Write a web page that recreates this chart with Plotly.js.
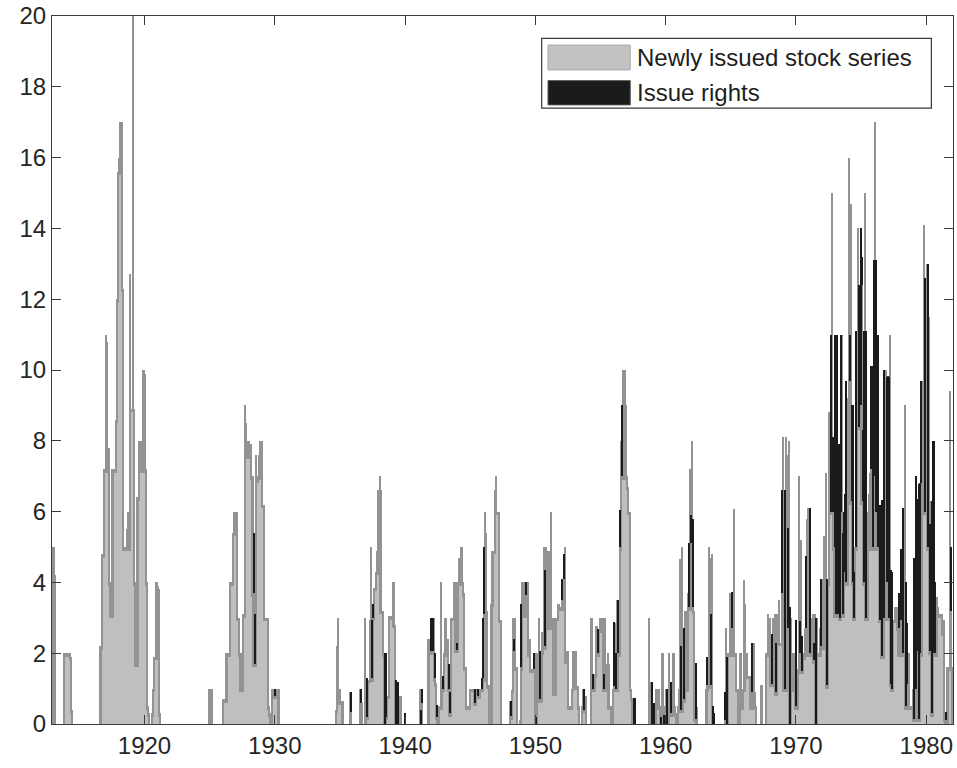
<!DOCTYPE html>
<html><head><meta charset="utf-8">
<script src="https://cdn.plot.ly/plotly-3.0.1.min.js"></script>
<style>html,body{margin:0;padding:0;background:#fff}#chart{width:957px;height:768px}</style>
</head><body><div id="chart"></div>
<script>
const firstYear = 1912; // monthly values, January 1912 onwards
const tickYears = [1920, 1930, 1940, 1950, 1960, 1970, 1980];
const seriesNames = ['Newly issued stock series', 'Issue rights'];

const newSeries1910s = [
 0,0,0,0,0,0,0,0,0,0,0,5.0,
 5.0,4.2,0,0,0,0,0,0,0,2.0,2.0,2.0,
 2.0,2.0,2.0,2.0,1.9,0.4,0,0,0,0,0,0,
 0,0,0,0,0,0,0,0,0,0,0,0,
 0,0,0,0,0,0,0,2.2,4.8,4.8,7.2,7.2,
 11.0,10.8,7.8,7.8,4.0,3.1,7.2,7.2,7.2,8.6,12.0,15.6,
 16.0,17.0,17.0,17.0,12.3,5.0,5.0,5.5,6.0,5.0,12.7,8.9,
 8.9,21.0,8.9,4.0,1.7,6.4,8.0,8.0,7.2,8.0,10.0,10.0];
const newSeries1920s = [
 9.9,7.2,4.0,0.5,0.3,0,0.3,1.0,1.9,1.9,4.0,4.0,
 3.9,3.8,0.3,0,0,0,0,0,0,0,0,0,
 0,0,0,0,0,0,0,0,0,0,0,0,
 0,0,0,0,0,0,0,0,0,0,0,0,
 0,0,0,0,0,0,0,0,0,0,0,1.0,
 0.2,1.0,1.0,0,0,0,0,0,0,0,0,0,
 0.7,0.7,0.7,2.0,2.0,2.0,4.0,4.0,4.0,5.4,6.0,6.0,
 6.0,6.0,3.0,3.0,2.0,1.0,3.1,3.1,9.0,8.5,7.6,8.0,
 8.0,7.9,7.9,7.0,3.7,1.7,7.6,6.9,7.0,7.6,8.0,8.0,
 8.0,6.2,6.2,3.0,3.0,3.0,0.5,0.3,0,1.0,1.0,1.0];
const newSeries1930s = [
 0.8,1.0,1.0,1.0,0,0,0,0,0,0,0,0,
 0,0,0,0,0,0,0,0,0,0,0,0,
 0,0,0,0,0,0,0,0,0,0,0,0,
 0,0,0,0,0,0,0,0,0,0,0,0,
 0,0,0,0,0,0,0,0,0.4,2.2,3.0,1.0,
 1.0,0.65,0.65,0,0,0,0,0,0,0.9,0.35,0,
 0,0,0,0,0,0,1.0,0.6,0.6,0,0,3.0,
 0.2,1.25,1.25,2.95,5.0,1.3,3.0,3.85,3.85,4.3,4.9,6.6,
 7.0,6.6,3.2,3.2,2.0,0,0.2,0.8,0.8,3.05,3.05,3.05,
 4.0,4.0,2.8,0,0.1,0,0.8,0.8,0.8,0,0,0];
const newSeries1940s = [
 0,0,0,0,0,0,0,0,0,0,0,0,
 0,1.0,0,0.6,0,0,0,0,0,2.4,2.4,2.05,
 2.05,2.05,3.0,1.3,1.15,0.2,0,0.5,0.5,4.0,1.0,2.0,
 3.0,3.0,2.4,2.4,1.0,0.3,3.0,3.0,3.0,4.0,4.0,2.1,
 4.0,4.7,4.7,5.0,5.0,4.0,3.7,1.6,1.6,0.5,0.5,1.0,
 1.0,1.0,1.0,1.0,0.6,1.0,1.0,0.8,1.0,1.0,1.0,1.3,
 3.1,6.0,5.4,3.2,1.1,1.1,0,3.4,4.9,4.9,6.6,7.0,
 6.0,6.0,6.0,2.95,2.95,0,0,0,0,0,0,0,
 0.64,0.22,0.97,3.0,2.05,3.0,1.6,1.6,0,0.1,1.6,4.0,
 4.0,3.1,4.0,3.65,4.0,4.0,2.0,2.4,1.55,1.55,1.55,2.0];
const newSeries1950s = [
 0,2.0,2.0,3.0,0.7,2.05,2.6,5.0,2.2,5.0,4.5,4.9,
 4.9,2.76,6.0,3.0,3.0,0.9,3.0,3.0,3.4,3.4,3.3,3.3,
 3.5,4.1,4.1,5.0,1.8,2.05,2.05,0.5,0.5,1.0,2.05,2.05,
 2.05,2.05,1.07,1.07,0.5,0,0.5,1.0,0.4,0.8,0.8,0,
 0,0,0,3.0,3.0,1.0,1.4,2.76,2.76,2.0,2.67,3.0,
 3.0,3.0,3.0,1.0,3.0,1.7,2.0,1.7,0.5,0.5,0,1.0,
 1.07,2.86,1.0,3.5,2.0,5.0,8.0,7.0,10.0,10.0,10.0,9.0,
 7.0,6.7,6.0,6.0,1.0,0.74,0,0,0,0,0,0,
 0,0,0,0,0,0,0,0,3.0,0.5,1.2,0,
 0.6,0,0.6,1.0,1.0,1.0,0.5,0,2.0,2.0,0,0.5];
const newSeries1960s = [
 1.0,0,0.5,2.0,0.3,1.0,2.0,2.0,0.5,0.3,0,0.5,
 1.0,4.65,0.4,5.0,0.7,3.2,3.2,1.0,3.7,3.3,7.2,5.1,
 8.0,3.3,3.2,0.13,0.47,0,0,0,0,0,0,0,
 0,1.0,1.1,5.0,4.7,1.1,4.8,0,0,0,0,0,
 0,0,0,0,0,0,0.1,2.7,0,2.0,2.0,3.7,
 3.7,2.72,6.06,2.0,2.0,1.0,1.0,0,2.0,2.0,0.5,1.0,
 4.08,3.4,2.0,1.37,1.37,1.37,0.5,0.9,2.3,2.3,0.9,0.5,
 0,0,0,1.1,1.1,0,0,0,2.0,2.0,3.1,3.0,
 3.0,1.14,3.0,2.0,3.1,0.9,3.1,3.1,3.5,2.3,2.3,3.7,
 8.1,1.0,8.1,7.6,2.7,8.0,0,3.0,1.0,2.0,2.0,1.5];
const newSeries1970s = [
 0.5,1.54,7.0,2.0,5.2,1.5,2.0,1.9,2.7,2.72,5.8,6.1,
 2.0,3.0,3.0,3.1,1.8,3.1,0,3.0,2.0,2.0,2.7,2.2,
 4.1,5.3,5.3,7.1,1.1,4.0,8.8,8.8,6.0,15.0,6.0,5.0,
 3.1,4.0,3.1,5.4,3.0,6.0,11.0,3.1,5.4,4.3,4.0,9.2,
 16.0,9.7,14.7,6.3,4.0,3.0,5.0,5.0,11.1,14.0,8.4,9.0,
 12.4,6.3,4.0,15.0,3.0,3.0,6.0,6.5,7.1,7.2,5.0,7.0,
 17.0,6.0,6.3,5.0,6.2,2.95,6.2,1.93,6.3,3.0,10.0,4.0,
 7.07,3.0,11.0,1.14,1.0,2.95,2.95,3.3,3.3,3.3,2.72,2.0,
 2.95,4.9,2.0,6.1,9.0,0.5,1.14,2.0,2.0,0.5,0.5,1.0,
 0.13,4.7,1.0,6.3,2.05,0.13,2.0,6.8,9.7,14.1,6.0,12.2];
const newSeries1980s = [
 13.0,5.0,11.5,2.05,6.3,0.3,3.5,2.0,2.0,3.6,3.3,3.1,
 3.1,3.1,3.1,2.6,2.95,0.13,0.1,1.6,1.6,9.4,3.2,1.6];

const rights1910s = new Array(96).fill(0);
const rights1920s = [
 0,0,0,0,0,0,0,0,0,0,0,0,
 0,0,0,0,0,0,0,0,0,0,0,0,
 0,0,0,0,0,0,0,0,0,0,0,0,
 0,0,0,0,0,0,0,0,0,0,0,0,
 0,0,0,0,0,0,0,0,0,0,0,0,
 0,0,0,0,0,0,0,0,0,0,0,0,
 0,0,0,0,0,0,0,0,0,0,0,0,
 0,0,0,0,0,0,0,0,0,0,0,0,
 0,0,0,0,1.7,1.4,0,0,0,0,0,0,
 0,0,0,0,0,0,0,0,0,0,0,0];
const rights1930s = [
 0.2,0,0,0,0,0,0,0,0,0,0,0,
 0,0,0,0,0,0,0,0,0,0,0,0,
 0,0,0,0,0,0,0,0,0,0,0,0,
 0,0,0,0,0,0,0,0,0,0,0,0,
 0,0,0,0,0,0,0,0,0,0,0,0,
 0,0,0,0,0,0,0,0,0,0,0.55,0,
 0,0,0,0,0,0,0,0.4,0,0,0,0,
 1.1,0,0,0,0,1.65,0.4,0,0,0,0,0,
 0,0,0,0,0,2.0,1.8,0,0,0,0,0,
 0,0,0,1.25,0.7,1.2,0,0,0,0,0,0.3];
const rights1940s = [
 0,0,0,0,0,0,0,0,0,0,0,0,
 0,0,0.4,0.4,0,0,0,0,0,0,0,0.95,
 0.95,0.95,0,0.7,0,0.35,0,0,0,0,0.35,0,
 0,0,0,0,0.7,0.6,0,0,0,0,0,0.2,
 0,0,0,0,0,0,0,0,0,0,0,0,
 0,0,0,0,0.4,0,0,0.2,0,0,0.3,1.7,
 1.9,0,0,0,0,0,0,0,0,0,0,0,
 0,0,0,0,0,0,0,0,0,0,0,0,
 0,0.42,0,0,0.35,0,0,0,0,0,1.8,0,
 0,0,0,0.35,0,0,0,0,0,0,0.45,0];
const rights1950s = [
 0.2,0,0,0,1.35,0,0,0,2.16,0,0,0,
 0,0,0,0,0,0,0,0,0,0,0,0,
 0.6,0,0.7,0,0,0,0,0,0,0,0,0,
 0,0,0,0,0,0,0,0,0.6,0,0,0,
 0,0,0,0,0,0.4,0,0,0,0.67,0,0,
 0,0,0,0.4,0,0,0,0,0,0,0,0,
 1.8,0,1.0,0,1.5,1.05,0,2.0,0,0,0,0,
 0,0,0,0,0,0,0.74,0.74,0,0,0,0,
 0,0,0,0,0,0,0,0,0,0,0,1.2,
 0,0.6,0,0,0,0,0,0.2,0,0,0.25,0];
const rights1960s = [
 0,1.0,0,0,0.9,0,0,0,0,0,0,0,
 0,0,1.8,0,2.0,0,0,0,0,1.8,0,0.8,
 0,2.5,0,1.6,0,0,0,0,0,0,0,0,
 0,0,0.8,0,0,2.0,0,0.5,0.3,0,0,0,
 0,0,0,0,0,0,0.8,0,1.9,0,0,0,
 0,1.0,0,0,0,0,0,0,0,0,0,0,
 0,0,0,0,0,0,0,1.4,0,0,0,0,
 0,0,0,0,0,0,0,0,0,0,0,0,
 0,1.4,0,0,0,1.4,0,0,0,0,0,2.9,
 0,5.6,0,0,2.85,0,3.3,0,0,0,0,0];
const rights1970s = [
 2.45,0,0,0.9,0,1.0,0,0,0,2.04,0,0,
 4.1,0,0,0,0.5,0,3.0,0,0,0,0,1.9,
 0,0,0,0,3.0,0,0,0,5.0,0,2.1,6.0,
 2.9,7.0,2.9,2.5,4.9,5.0,0,2.3,0.6,2.2,5.7,0,
 0,1.3,0,2.7,5.0,1.3,0,6.1,0,0,4.0,5.0,
 0.8,2.0,7.1,0,8.1,0,0,0,0,2.9,5.1,6.1,
 0,7.1,4.7,6.0,0,3.25,0,4.4,0,7.0,0,5.8,
 2.77,6.8,0,3.2,3.3,0,0,0,0,0,0.97,0,
 1.98,0,4.1,0,0,3.5,1.7,0,0,0,0,0,
 4.57,0,6.0,0,4.3,6.66,4.8,2.9,0,0,6.6,0];
const rights1980s = [
 0,8.0,0,3.6,0,6.0,4.5,6.0,2.0,0,0,0,
 0,0,0,0,0,0,0.25,0,0,0,1.8,0];

const newSeries = [].concat(newSeries1910s, newSeries1920s, newSeries1930s, newSeries1940s,
  newSeries1950s, newSeries1960s, newSeries1970s, newSeries1980s);
const rights = [].concat(rights1910s, rights1920s, rights1930s, rights1940s,
  rights1950s, rights1960s, rights1970s, rights1980s);

const n = newSeries.length;
const monthX = newSeries.map((_, i) => firstYear + i / 12);
// light interior of the gray bars (edge-darkened look of the original)
const interior = newSeries.map((v, i) => {
  let m = v;
  for (let k = i - 2; k <= i + 2; k++) m = Math.min(m, (k >= 0 && k < n) ? newSeries[k] : 0);
  return Math.max(0, m - 0.1);
});

const W = 1 / 12;
const traces = [
  {type: 'bar', x: monthX, y: newSeries, width: W, offset: 0, name: seriesNames[0],
   marker: {color: '#939393', line: {width: 0}}, hoverinfo: 'skip'},
  {type: 'bar', x: monthX, y: interior, width: W, offset: 0, showlegend: false,
   marker: {color: '#bfbfbf', line: {width: 0}}, hoverinfo: 'skip'},
  {type: 'bar', x: monthX, y: rights, base: newSeries, width: W, offset: 0, name: seriesNames[1],
   marker: {color: '#1b1b1b', line: {width: 0}}, hoverinfo: 'skip'}
];

const axisCommon = {
  showline: true, linecolor: '#3a3a3a', linewidth: 1.2, mirror: 'ticks',
  ticks: 'inside', ticklen: 9, tickwidth: 1.2, tickcolor: '#3a3a3a',
  showgrid: false, zeroline: false, fixedrange: true,
  tickfont: {family: 'Liberation Sans, Arial, sans-serif', size: 24, color: '#262626'}
};

// legend drawn in paper coordinates (large MATLAB-style swatches)
const legendShapes = [
  {type: 'rect', xref: 'paper', yref: 'paper', x0: 0.5435, x1: 0.976, y0: 0.870, y1: 0.9685,
   line: {color: '#3a3a3a', width: 1.2}, fillcolor: '#ffffff'},
  {type: 'rect', xref: 'paper', yref: 'paper', x0: 0.5505, x1: 0.6418, y0: 0.9238, y1: 0.959,
   line: {color: '#a8a8a8', width: 1}, fillcolor: '#c2c2c2'},
  {type: 'rect', xref: 'paper', yref: 'paper', x0: 0.5505, x1: 0.6418, y0: 0.8744, y1: 0.9087,
   line: {color: '#555555', width: 1}, fillcolor: '#1b1b1b'}
];
const legendText = [
  {xref: 'paper', yref: 'paper', x: 0.6475, y: 0.9414, xanchor: 'left', yanchor: 'middle',
   text: seriesNames[0], showarrow: false,
   font: {family: 'Liberation Sans, Arial, sans-serif', size: 24, color: '#1e1e1e'}},
  {xref: 'paper', yref: 'paper', x: 0.6475, y: 0.8915, xanchor: 'left', yanchor: 'middle',
   text: seriesNames[1], showarrow: false,
   font: {family: 'Liberation Sans, Arial, sans-serif', size: 24, color: '#1e1e1e'}}
];

const layout = {
  width: 957, height: 768,
  margin: {l: 52, r: 4, t: 16, b: 44, pad: 0},
  paper_bgcolor: '#ffffff', plot_bgcolor: '#ffffff',
  barmode: 'overlay', bargap: 0, showlegend: false,
  font: {family: 'Liberation Sans, Arial, sans-serif', color: '#262626'},
  xaxis: Object.assign({}, axisCommon, {range: [1912.9, 1982.05], tickvals: tickYears,
    ticktext: tickYears.map(String)}),
  yaxis: Object.assign({}, axisCommon, {range: [0, 20], tick0: 0, dtick: 2}),
  shapes: legendShapes,
  annotations: legendText
};

Plotly.newPlot('chart', traces, layout, {displayModeBar: false});
</script>
</body></html>
